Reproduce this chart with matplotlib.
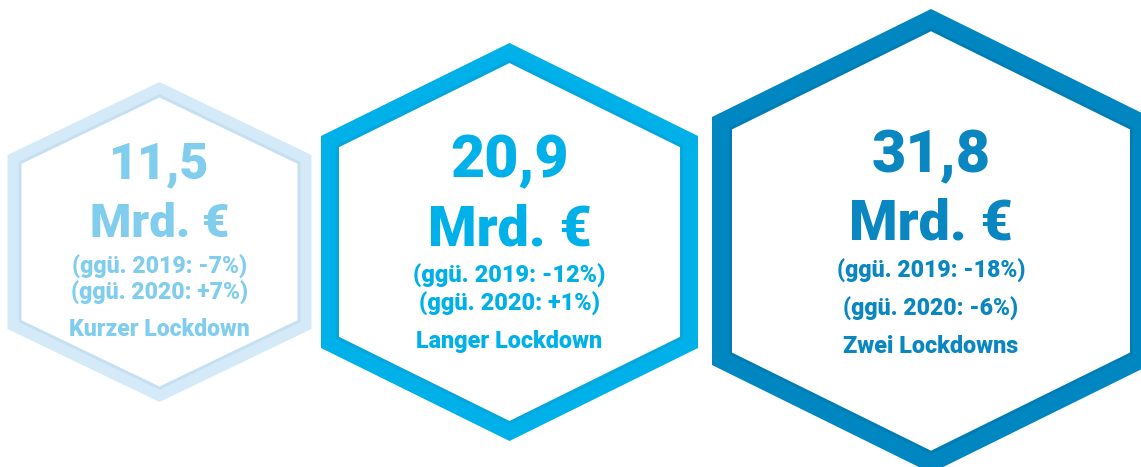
"""
Drei Szenarien als Sechsecke
"""

import numpy as np
import matplotlib.pyplot as plt
import matplotlib.patches as patch

# data
values = ['11,5', '20,9', '31,8']
unit = 'Mrd. €'
vs_2019 = ['-7%', '-12%', '-18%']
vs_2020 = ['+7%', '+1%', '-6%']
scenarios = ['Kurzer Lockdown', 'Langer Lockdown', 'Zwei Lockdowns']

# layout (pixel coordinates, y down)
centers = [(159.5, 242), (509.5, 242), (931, 241)]
half_w = [152, 188.5, 219]
half_h = [160, 199, 232]
side_y = [87, 106, 124]
ring = [14, 18, 20]
ring_colors = ['#d5eaf8', '#00b0e8', '#0086c0']
edge_colors = ['#c6e0f1', '#04a6dc', '#007db5']
text_colors = ['#80cdee', '#00b0e8', '#0a86c1']
num_size = [36, 42.5, 42.7]
unit_size = [34, 40, 40]
sub_size = [16.6, 16.9, 16.6]
lab_size = [16.6, 16.8, 16.8]
baselines = [[178, 237, 274, 300, 336],
             [177, 245, 283, 311, 348],
             [172, 240, 278, 316, 353]]


def hexagon(cx, cy, w, h, s):
    return np.array([[cx, cy - h], [cx + w, cy - s], [cx + w, cy + s],
                     [cx, cy + h], [cx - w, cy + s], [cx - w, cy - s]])


def shrink(pts, t):
    # move every edge inwards by t and intersect neighbours
    n = len(pts)
    c = pts.mean(axis=0)
    lines = []
    for i in range(n):
        p, q = pts[i], pts[(i + 1) % n]
        d = (q - p) / np.linalg.norm(q - p)
        nrm = np.array([-d[1], d[0]])
        if np.dot(c - p, nrm) < 0:
            nrm = -nrm
        lines.append((p + nrm * t, d))
    out = []
    for i in range(n):
        p1, d1 = lines[i - 1]
        p2, d2 = lines[i]
        a = np.array([d1, -d2]).T
        k = np.linalg.solve(a, p2 - p1)
        out.append(p1 + d1 * k[0])
    return np.array(out)


fig = plt.figure(figsize=(11.41, 4.67), dpi=100)
ax = fig.add_axes([0, 0, 1, 1])
ax.set_xlim(0, 1141)
ax.set_ylim(467, 0)
ax.axis('off')

font = ['Roboto', 'Liberation Sans', 'DejaVu Sans']

for i in range(3):
    cx, cy = centers[i]
    outer = hexagon(cx, cy, half_w[i], half_h[i], side_y[i])
    inner = shrink(outer, ring[i])
    ax.add_patch(patch.Polygon(outer, closed=True, facecolor=ring_colors[i],
                               edgecolor='none'))
    ax.add_patch(patch.Polygon(shrink(outer, ring[i] - 3), closed=True,
                               facecolor=edge_colors[i], edgecolor='none'))
    ax.add_patch(patch.Polygon(inner, closed=True, facecolor='white',
                               edgecolor='none'))

    lines = [values[i], unit,
             '(ggü. 2019: ' + vs_2019[i] + ')',
             '(ggü. 2020: ' + vs_2020[i] + ')',
             scenarios[i]]
    sizes = [num_size[i], unit_size[i], sub_size[i], sub_size[i], lab_size[i]]
    for txt, y, fs in zip(lines, baselines[i], sizes):
        ax.text(cx, y, txt, ha='center', va='baseline', fontsize=fs,
                fontweight='black', family=font, color=text_colors[i])

fig.savefig('out.png', dpi=100, facecolor='white')
